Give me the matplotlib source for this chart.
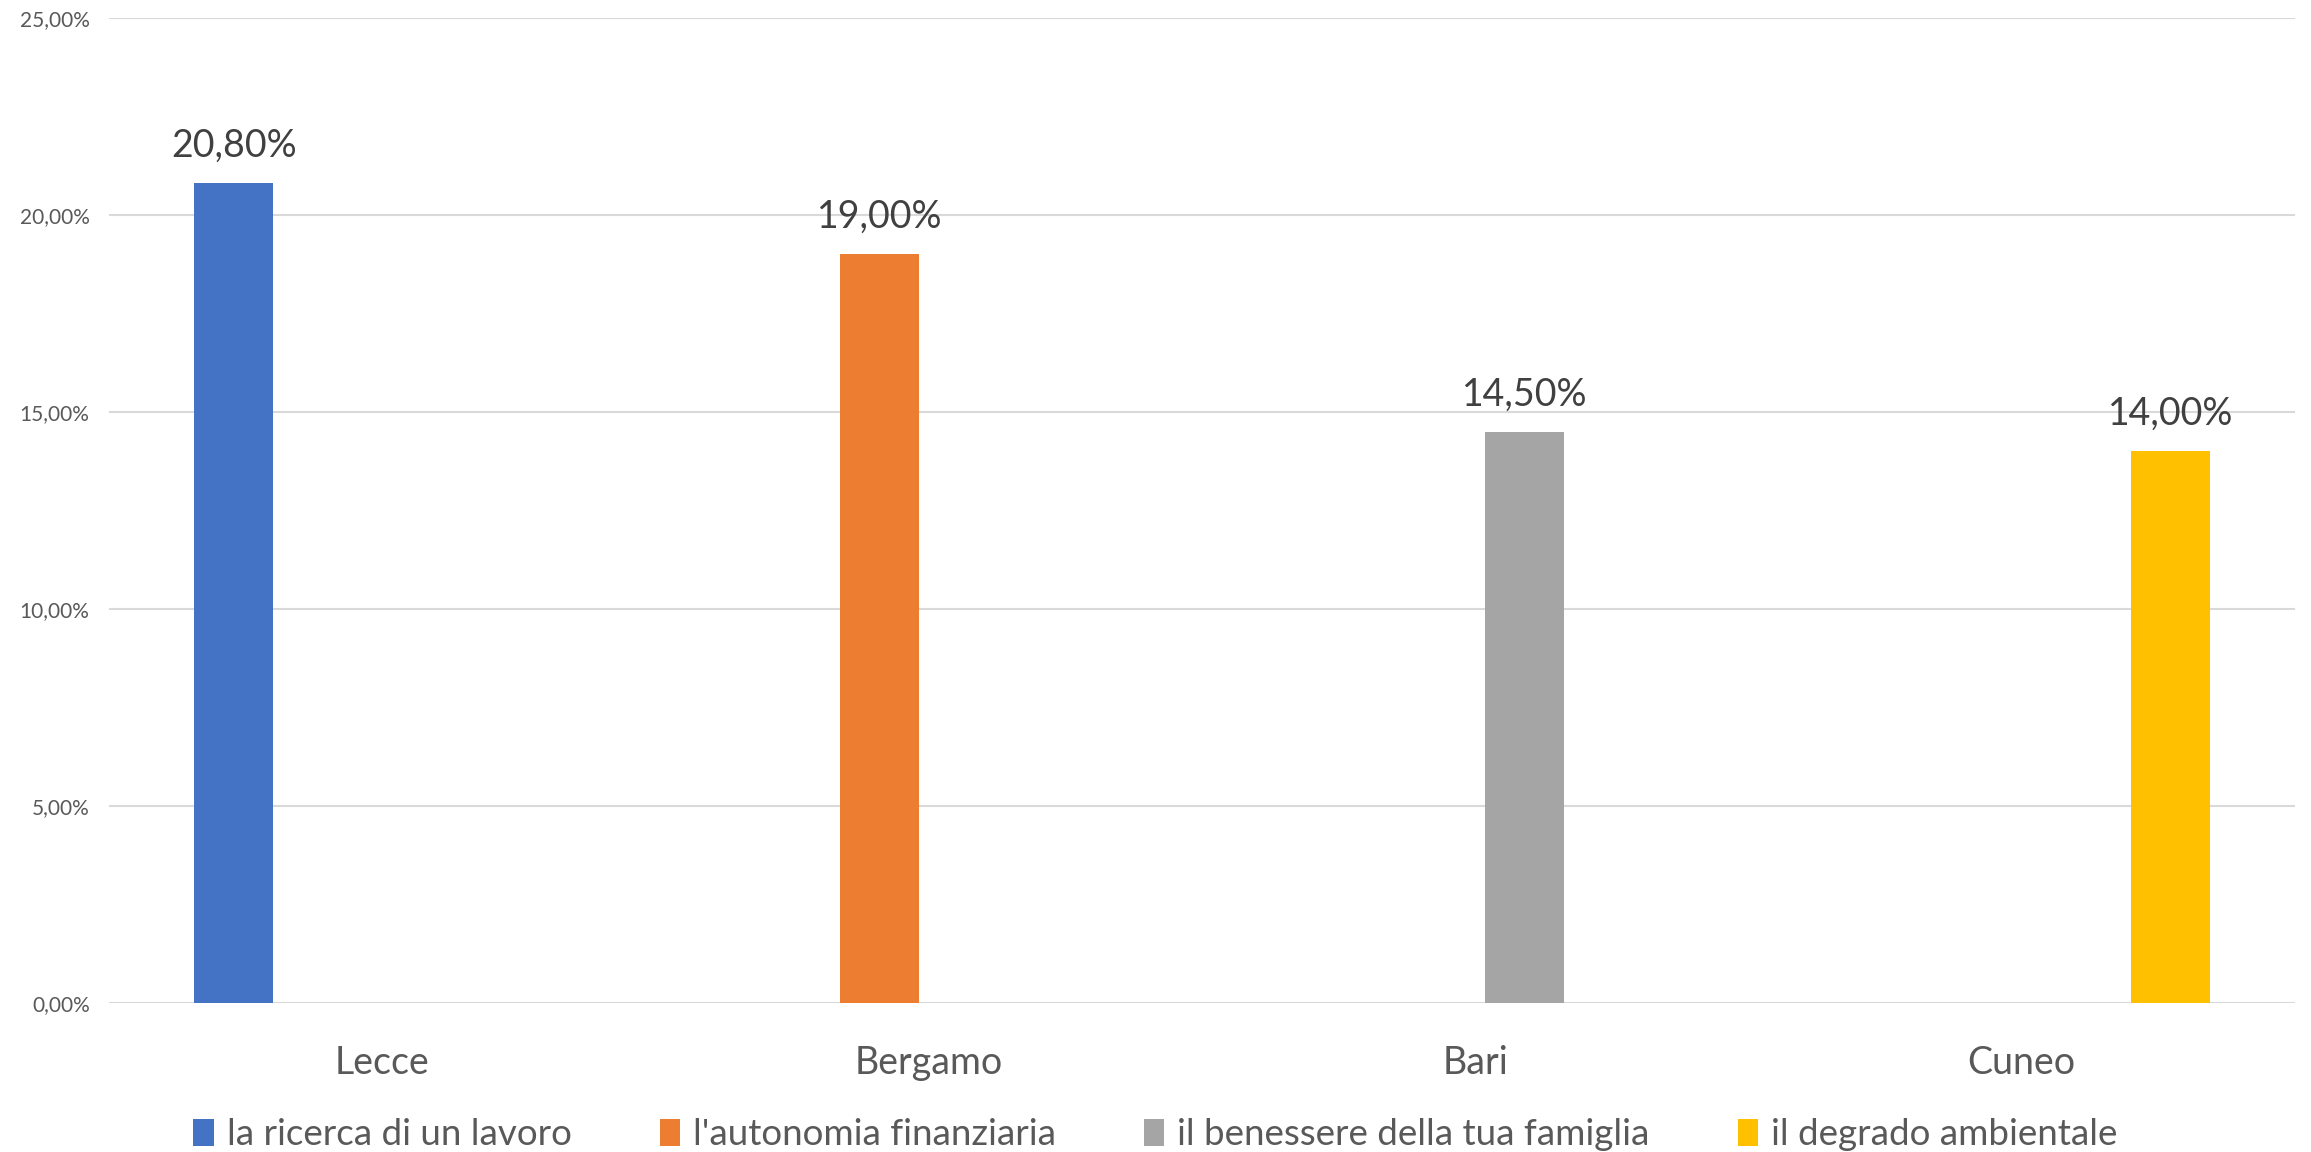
import numpy as np
import matplotlib
matplotlib.use("Agg")
import matplotlib.pyplot as plt

categories = ["Lecce", "Bergamo", "Bari", "Cuneo"]
series_names = ["la ricerca di un lavoro", "l'autonomia finanziaria",
                "il benessere della tua famiglia", "il degrado ambientale"]
values = [
    [20.8, np.nan, np.nan, np.nan],
    [np.nan, 19.0, np.nan, np.nan],
    [np.nan, np.nan, 14.5, np.nan],
    [np.nan, np.nan, np.nan, 14.0],
]
colors = ["#4472C4", "#ED7D31", "#A5A5A5", "#FFC000"]
yticks = [0, 5, 10, 15, 20, 25]

plt.rcParams['font.family'] = ['Lato', 'DejaVu Sans']

fig = plt.figure(figsize=(23.11, 11.52), dpi=100)
ax = fig.add_axes([0.0472, 0.1293, 0.9459, 0.8551])

x = np.arange(len(categories))
spacing = 0.1814
width = 0.1446
for i, (name, vals, c) in enumerate(zip(series_names, values, colors)):
    pos = x + (i - 1.5) * spacing
    v = np.array(vals, dtype=float)
    bars = ax.bar(pos, np.nan_to_num(v), width=width, color=c, label=name, zorder=3)
    for b, val in zip(bars, v):
        if not np.isnan(val):
            ax.annotate(f"{val:.2f}%".replace(".", ","),
                        (b.get_x() + b.get_width() / 2, val),
                        xytext=(0, 14), textcoords="offset points",
                        ha="center", va="bottom", fontsize=27, color="#404040")

ax.set_xlim(-0.5, len(categories) - 0.5)
ax.set_ylim(0, 25)
ax.set_yticks(yticks)
ax.set_yticklabels([f"{t:.2f}%".replace(".", ",") for t in yticks],
                   fontsize=15, color="#595959")
ax.set_xticks(x)
ax.set_xticklabels(categories, fontsize=27, color="#595959")
ax.tick_params(axis='both', length=0)
ax.tick_params(axis='y', pad=14)
ax.tick_params(axis='x', pad=30)
ax.grid(axis='y', color="#D9D9D9", linewidth=1.5, zorder=0)
for s in ax.spines.values():
    s.set_visible(False)

fig.legend(loc="lower center", bbox_to_anchor=(0.5, -0.028), ncol=4, frameon=False,
           fontsize=26.5, labelcolor="#595959", handlelength=0.55, handleheight=0.75,
           handletextpad=0.35, columnspacing=2.4)

fig.savefig("out.png", dpi=100, facecolor="white")
